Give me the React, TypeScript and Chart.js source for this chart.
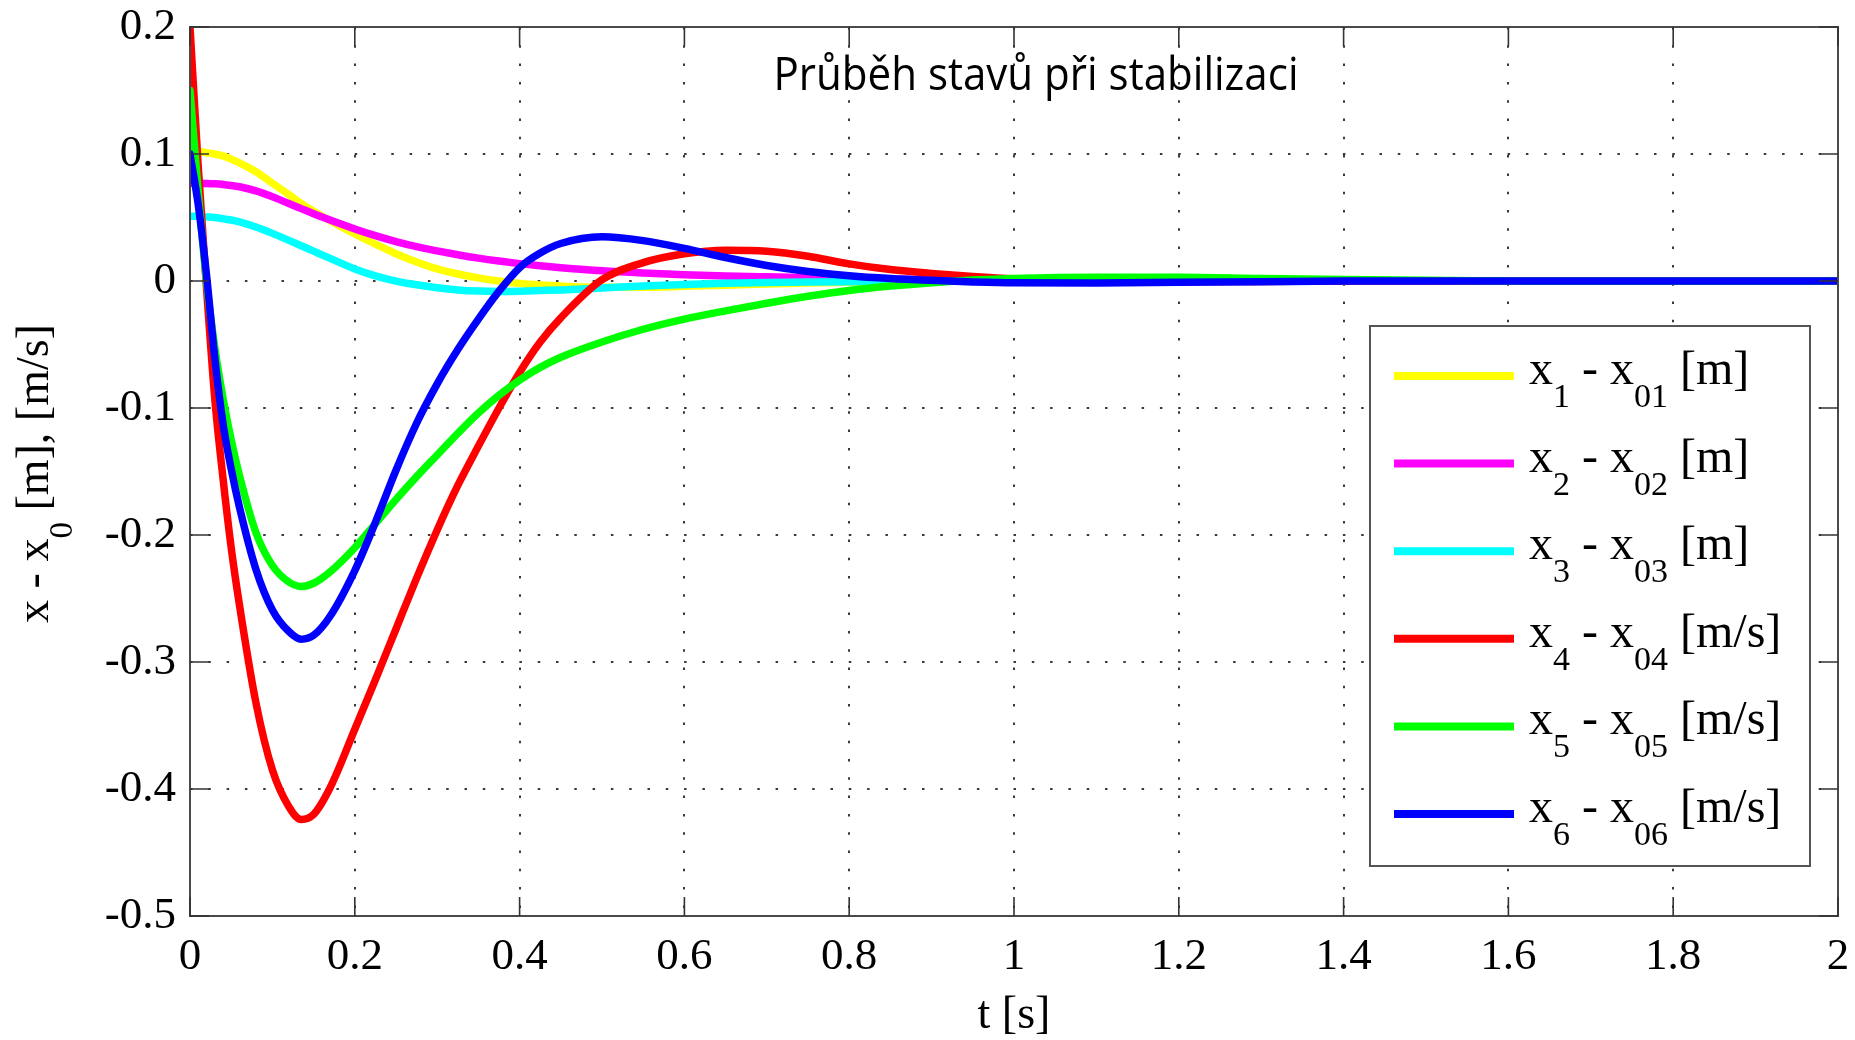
import React, { useEffect, useRef } from "react";
import { Chart, registerables } from "chart.js";

Chart.register(...registerables);

// ---------------- data ----------------
const time = [0, 0.01, 0.02, 0.03, 0.04, 0.05, 0.06, 0.08, 0.1, 0.12, 0.135, 0.15, 0.17, 0.2, 0.225, 0.25, 0.275, 0.3, 0.325, 0.35, 0.375, 0.4, 0.425, 0.45, 0.5, 0.55, 0.6, 0.65, 0.7, 0.75, 0.8, 0.85, 0.9, 0.95, 1.0, 1.1, 1.2, 1.3, 1.4, 1.5, 1.6, 1.8, 2.0];

const x1 = [0.102, 0.102, 0.101, 0.1, 0.0985, 0.096, 0.093, 0.086, 0.077, 0.068, 0.061, 0.055, 0.0475, 0.037, 0.029, 0.0215, 0.015, 0.0095, 0.0055, 0.0025, 0.0, -0.002, -0.0032, -0.004, -0.005, -0.005, -0.0042, -0.0033, -0.0024, -0.0016, -0.001, -0.0005, -0.0002, 0, 0, 0, 0, 0, 0, 0, 0, 0, 0];
const x2 = [0.077, 0.077, 0.0768, 0.0765, 0.076, 0.0752, 0.0742, 0.071, 0.0663, 0.061, 0.057, 0.053, 0.048, 0.041, 0.0357, 0.031, 0.027, 0.0237, 0.0207, 0.018, 0.0157, 0.0137, 0.012, 0.0105, 0.008, 0.0063, 0.005, 0.004, 0.0033, 0.0027, 0.002, 0.0015, 0.001, 0.0006, 0.0003, 0, 0, 0, 0, 0, 0, 0, 0];
const x3 = [0.051, 0.051, 0.0505, 0.05, 0.049, 0.048, 0.0465, 0.0425, 0.0375, 0.032, 0.0278, 0.0235, 0.0178, 0.0095, 0.004, -0.0001, -0.003, -0.0053, -0.007, -0.0079, -0.0082, -0.008, -0.0075, -0.007, -0.0055, -0.004, -0.0027, -0.0018, -0.0012, -0.0008, -0.0005, -0.0003, 0, 0, 0, 0, 0, 0, 0, 0, 0, 0, 0];
const x4 = [0.2, 0.09, -0.005, -0.092, -0.155, -0.21, -0.255, -0.332, -0.385, -0.414, -0.424, -0.42, -0.399, -0.353, -0.314, -0.274, -0.234, -0.196, -0.161, -0.13, -0.1, -0.072, -0.048, -0.029, 0.001, 0.0145, 0.0215, 0.0243, 0.0235, 0.0195, 0.0135, 0.009, 0.006, 0.0036, 0.0018, 0.0003, -0.0005, -0.0004, 0, 0, 0, 0, 0];
const x5 = [0.15, 0.07, 0.0, -0.052, -0.092, -0.125, -0.153, -0.198, -0.224, -0.237, -0.2405, -0.238, -0.229, -0.21, -0.191, -0.172, -0.154, -0.137, -0.12, -0.104, -0.09, -0.078, -0.068, -0.06, -0.048, -0.038, -0.03, -0.0235, -0.0175, -0.012, -0.0075, -0.004, -0.0013, 0.0007, 0.002, 0.003, 0.003, 0.002, 0.0012, 0.0005, 0, 0, 0];
const x6 = [0.1, 0.06, 0.005, -0.06, -0.112, -0.148, -0.178, -0.227, -0.259, -0.276, -0.282, -0.279, -0.264, -0.228, -0.19, -0.149, -0.112, -0.081, -0.054, -0.03, -0.008, 0.0105, 0.022, 0.0295, 0.0348, 0.0318, 0.0257, 0.0185, 0.0122, 0.0075, 0.0042, 0.002, 0.0005, -0.0007, -0.0014, -0.0015, -0.001, -0.0005, 0, 0, 0, 0, 0];

const seriesValues = [x1, x2, x3, x4, x5, x6];
const seriesColors = ["#ffff00", "#ff00ff", "#00ffff", "#ff0000", "#00ff00", "#0000ff"];
const stateIndex = ["1", "2", "3", "4", "5", "6"];
const refIndex = ["01", "02", "03", "04", "05", "06"];
const units = ["[m]", "[m]", "[m]", "[m/s]", "[m/s]", "[m/s]"];

const xTicks = [0, 0.2, 0.4, 0.6, 0.8, 1, 1.2, 1.4, 1.6, 1.8, 2];
const xTickLabels = ["0", "0.2", "0.4", "0.6", "0.8", "1", "1.2", "1.4", "1.6", "1.8", "2"];
const yTicks = [-0.5, -0.4, -0.3, -0.2, -0.1, 0, 0.1, 0.2];
const yTickLabels = ["-0.5", "-0.4", "-0.3", "-0.2", "-0.1", "0", "0.1", "0.2"];

const titleText = "Průběh stavů při stabilizaci";
const xAxisTitle = "t [s]";
const yAxisTitle: [string, boolean][] = [["x - x", false], ["0", true], [" [m], [m/s]", false]];

// ---------------- drawing helpers ----------------
const SERIF = '"Liberation Serif", "Times New Roman", serif';

function drawRich(
  ctx: CanvasRenderingContext2D,
  parts: [string, boolean][],
  x: number,
  y: number,
  mainSize: number,
  subSize: number,
  subDrop: number,
  center: boolean
) {
  const fontFor = (sub: boolean) => `${sub ? subSize : mainSize}px ${SERIF}`;
  let total = 0;
  const widths = parts.map(([t, sub]) => {
    ctx.font = fontFor(sub);
    const w = ctx.measureText(t).width;
    total += w;
    return w;
  });
  let cx = center ? x - total / 2 : x;
  ctx.textAlign = "left";
  ctx.textBaseline = "alphabetic";
  parts.forEach(([t, sub], i) => {
    ctx.font = fontFor(sub);
    ctx.fillText(t, cx, sub ? y + subDrop : y);
    cx += widths[i];
  });
}

const decorPlugin = {
  id: "matlabDecor",
  afterDraw(chart: any) {
    const { ctx, chartArea: a, scales } = chart;
    ctx.save();

    // axes box
    ctx.strokeStyle = "#4a4a4a";
    ctx.lineWidth = 2;
    ctx.setLineDash([]);
    ctx.strokeRect(a.left, a.top, a.right - a.left, a.bottom - a.top);

    // inner ticks on all four sides
    const TL = 19;
    ctx.lineWidth = 1.6;
    ctx.strokeStyle = "#333";
    ctx.beginPath();
    xTicks.forEach((v) => {
      const px = scales.x.getPixelForValue(v);
      ctx.moveTo(px, a.bottom);
      ctx.lineTo(px, a.bottom - TL);
      ctx.moveTo(px, a.top);
      ctx.lineTo(px, a.top + TL);
    });
    yTicks.forEach((v) => {
      const py = scales.y.getPixelForValue(v);
      ctx.moveTo(a.left, py);
      ctx.lineTo(a.left + TL, py);
      ctx.moveTo(a.right, py);
      ctx.lineTo(a.right - TL, py);
    });
    ctx.stroke();

    // title inside the axes
    ctx.fillStyle = "#000";
    ctx.font = '45px "Open Sans", "Noto Sans", sans-serif';
    const tw = ctx.measureText(titleText).width;
    const targetW = 525;
    ctx.save();
    ctx.translate(1036, 90);
    ctx.scale(Math.min(1, targetW / tw), 1);
    ctx.textAlign = "center";
    ctx.textBaseline = "alphabetic";
    ctx.fillText(titleText, 0, 0);
    ctx.restore();

    // legend
    const lx = 1370, ly = 326, lw = 440, lh = 540;
    ctx.fillStyle = "#fff";
    ctx.fillRect(lx, ly, lw, lh);
    ctx.strokeStyle = "#555";
    ctx.lineWidth = 2;
    ctx.strokeRect(lx, ly, lw, lh);
    seriesValues.forEach((_, i) => {
      const yy = 376 + i * 87.6;
      ctx.strokeStyle = seriesColors[i];
      ctx.lineWidth = 8;
      ctx.beginPath();
      ctx.moveTo(1394, yy);
      ctx.lineTo(1514, yy);
      ctx.stroke();
      ctx.fillStyle = "#000";
      drawRich(
        ctx,
        [["x", false], [stateIndex[i], true], [" - x", false], [refIndex[i], true], [" " + units[i], false]],
        1529,
        yy + 8,
        48,
        34,
        23,
        false
      );
    });

    // axis titles
    ctx.fillStyle = "#000";
    ctx.font = `46px ${SERIF}`;
    ctx.textAlign = "center";
    ctx.textBaseline = "alphabetic";
    ctx.fillText(xAxisTitle, (a.left + a.right) / 2, 1028);

    ctx.save();
    ctx.translate(48, (a.top + a.bottom) / 2 + 2);
    ctx.rotate(-Math.PI / 2);
    drawRich(ctx, yAxisTitle, 0, 0, 46, 33, 24, true);
    ctx.restore();

    ctx.restore();
  },
};

export default function App() {
  const ref = useRef<HTMLCanvasElement>(null);

  useEffect(() => {
    document.body.style.margin = "0";
    const canvas = ref.current;
    if (!canvas) return;
    const gridStyle = {
      color: "#3a3a3a",
      lineWidth: 2,
      drawTicks: false,
      borderDash: [2.5, 15.8],
    };
    const chart = new Chart(canvas, {
      type: "line",
      data: {
        datasets: seriesValues.map((vals, i) => ({
          label: `x${stateIndex[i]} - x${refIndex[i]} ${units[i]}`,
          data: time.map((t, j) => ({ x: t, y: vals[j] })),
          borderColor: seriesColors[i],
          backgroundColor: seriesColors[i],
          borderWidth: 7.5,
          pointRadius: 0,
          cubicInterpolationMode: "monotone",
          clip: 0,
          order: 6 - i,
          borderCapStyle: "round",
          borderJoinStyle: "round",
          fill: false,
        })),
      },
      options: {
        animation: false,
        responsive: false,
        maintainAspectRatio: false,
        layout: { padding: { top: 27, right: 17, left: 0, bottom: 0 } },
        plugins: {
          legend: { display: false },
          tooltip: { enabled: false },
          title: { display: false },
        },
        scales: {
          x: {
            type: "linear",
            min: 0,
            max: 2,
            afterBuildTicks: (s: any) => {
              s.ticks = xTicks.map((v) => ({ value: v }));
            },
            afterFit: (s: any) => {
              s.height = 124;
              s.paddingLeft = 0;
              s.paddingRight = 0;
            },
            grid: gridStyle,
            border: { display: false, dash: [2.5, 15.8] },
            ticks: {
              autoSkip: false,
              maxRotation: 0,
              padding: 14,
              color: "#000",
              font: { family: SERIF, size: 45 },
              callback: (_v: any, i: number) => xTickLabels[i],
            },
          },
          y: {
            type: "linear",
            min: -0.5,
            max: 0.2,
            afterBuildTicks: (s: any) => {
              s.ticks = yTicks.map((v) => ({ value: v }));
            },
            afterFit: (s: any) => {
              s.width = 190;
              s.paddingTop = 0;
              s.paddingBottom = 0;
            },
            grid: gridStyle,
            border: { display: false, dash: [2.5, 15.8] },
            ticks: {
              autoSkip: false,
              padding: 14,
              color: "#000",
              font: { family: SERIF, size: 45 },
              callback: (_v: any, i: number) => yTickLabels[i],
            },
          },
        },
      } as any,
      plugins: [decorPlugin],
    });
    return () => chart.destroy();
  }, []);

  return (
    <div style={{ width: 1855, height: 1040, background: "#fff" }}>
      <canvas ref={ref} width={1855} height={1040} style={{ display: "block" }} />
    </div>
  );
}
